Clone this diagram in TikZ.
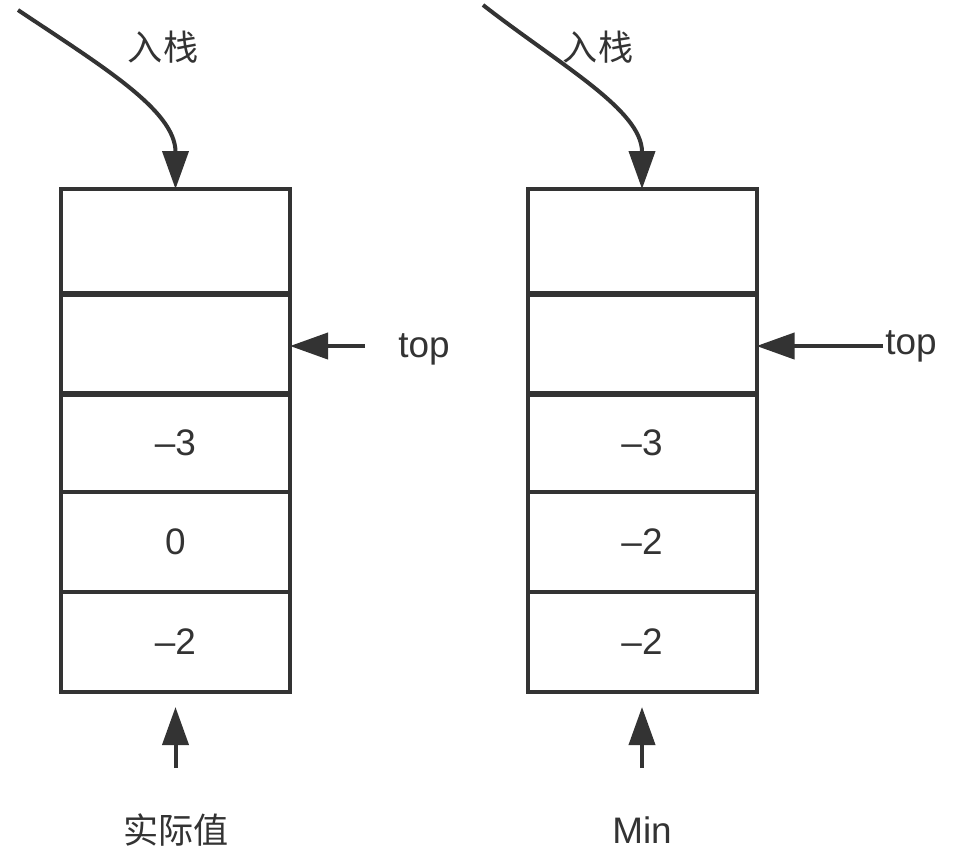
\documentclass[tikz,border=0pt]{standalone}
\usepackage{fontspec}
\setmainfont{Liberation Sans}
\newfontfamily\cjk{Noto Sans CJK SC}
\usepackage{tikz}
\usetikzlibrary{arrows.meta,positioning,calc}
\definecolor{cA}{HTML}{333333}
\tikzset{
  cell/.style={draw=cA,line width=0.08cm,minimum width=4.58cm,outer sep=0pt,
               inner sep=0pt,text=cA,font=\fontsize{21}{25}\selectfont},
  ptr/.style={-{Triangle[length=0.76cm,width=0.52cm]},line width=0.08cm,cA},
  lbl/.style={text=cA,font=\fontsize{20}{24}\selectfont\cjk,inner sep=1pt},
  lat/.style={text=cA,font=\fontsize{21}{25}\selectfont,inner sep=1pt},
}
\begin{document}
\begin{tikzpicture}
  \useasboundingbox (0,0) rectangle (19.44,-17.16);
  % two stacks: actual values (L) and minimums (R)
  \foreach \n/\yc/\h/\lt/\rt in {1/4.82/2.08/{}/{},2/6.90/2.00/{}/{},
      3/8.85/1.98/–3/–3,4/10.84/2.00/0/–2,5/12.84/2.00/–2/–2}{
     \node[cell,minimum height=\h cm] (L\n) at (3.51,-\yc) {\lt};
     \node[cell,minimum height=\h cm] (R\n) at (12.84,-\yc) {\rt};}
  % push
  \coordinate (inL) at (0.36,-0.2);
  \coordinate (inR) at (9.66,-0.1);
  \draw[ptr] (inL) .. controls (2.0,-1.3) and (3.51,-2.2) .. (L1.north);
  \draw[ptr] (inR) .. controls (11.2,-1.3) and (12.84,-2.2) .. (R1.north);
  \node[lbl] (pushL) at (3.26,-0.94) {入栈};
  \node[lbl] (pushR) at (11.96,-0.94) {入栈};
  % top pointers
  \node[lat] (topL) at (8.48,-6.98) {top};
  \node[lat] (topR) at (18.22,-6.92) {top};
  \coordinate (tL) at (7.3,-6.92);
  \draw[ptr] (tL) -- (tL -| L2.east);
  \draw[ptr] (topR.west) -- (topR.west -| R2.east);
  % bottom
  \node[lbl] (valL) at (3.52,-16.6) {实际值};
  \node[lat] (minR) at (12.84,-16.6) {Min};
  \coordinate (bL) at (3.51,-15.36);
  \coordinate (bR) at (12.84,-15.36);
  \draw[ptr,shorten >=0.3cm] (bL) -- (L5.south);
  \draw[ptr,shorten >=0.3cm] (bR) -- (R5.south);
\end{tikzpicture}
\end{document}
